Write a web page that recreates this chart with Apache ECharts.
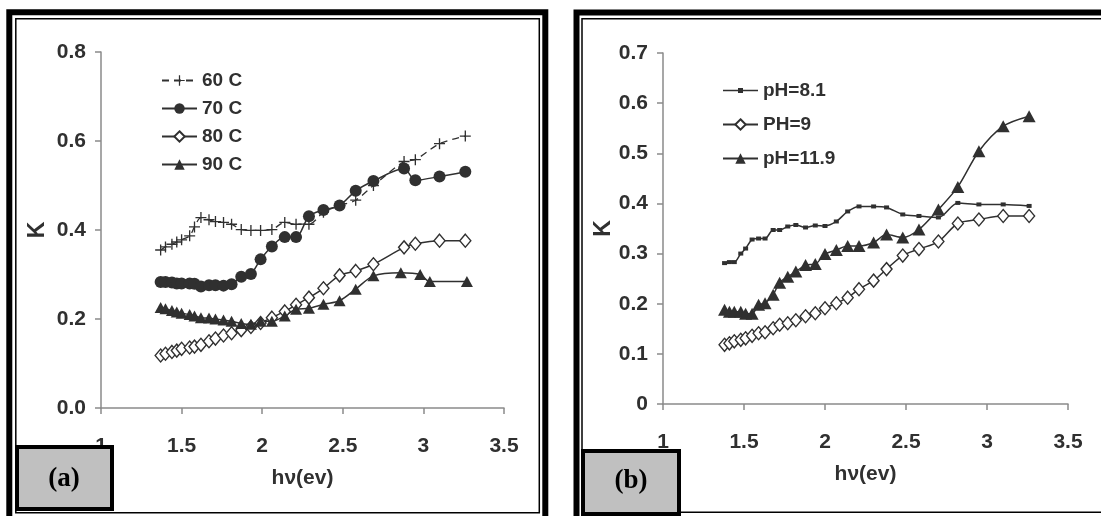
<!DOCTYPE html>
<html>
<head>
<meta charset="utf-8">
<title>K vs hv</title>
<script src="https://cdn.jsdelivr.net/npm/echarts@6/dist/echarts.min.js"></script>
<style>
  html, body { margin: 0; padding: 0; background: #fff; }
  #main { width: 1101px; height: 516px; }
</style>
</head>
<body>
<div id="main"></div>
<script>
// ---- data ----
// panel (a): temperature
let hvA   = [1.37, 1.40, 1.44, 1.47, 1.50, 1.55, 1.58, 1.62, 1.67, 1.71, 1.76, 1.81, 1.87, 1.93, 1.99, 2.06, 2.14, 2.21, 2.29, 2.38, 2.48, 2.58, 2.69, 2.88, 2.95, 3.10, 3.26];
let hvA90 = [1.37, 1.40, 1.44, 1.47, 1.50, 1.55, 1.58, 1.62, 1.67, 1.71, 1.76, 1.81, 1.87, 1.93, 1.99, 2.06, 2.14, 2.21, 2.29, 2.38, 2.48, 2.58, 2.69, 2.86, 2.98, 3.04, 3.27];
let k60 = [0.355, 0.362, 0.368, 0.373, 0.378, 0.387, 0.407, 0.428, 0.423, 0.419, 0.417, 0.413, 0.401, 0.399, 0.399, 0.401, 0.417, 0.413, 0.413, 0.440, 0.455, 0.467, 0.500, 0.554, 0.558, 0.594, 0.611];
let k70 = [0.283, 0.283, 0.282, 0.280, 0.280, 0.280, 0.279, 0.273, 0.276, 0.276, 0.275, 0.278, 0.295, 0.301, 0.334, 0.363, 0.384, 0.384, 0.431, 0.445, 0.455, 0.488, 0.510, 0.538, 0.512, 0.520, 0.531];
let k80 = [0.118, 0.122, 0.126, 0.129, 0.133, 0.136, 0.138, 0.142, 0.150, 0.156, 0.163, 0.168, 0.175, 0.182, 0.191, 0.203, 0.217, 0.232, 0.248, 0.269, 0.298, 0.308, 0.323, 0.361, 0.369, 0.376, 0.376];
let k90 = [0.226, 0.223, 0.219, 0.216, 0.213, 0.210, 0.207, 0.203, 0.202, 0.200, 0.198, 0.195, 0.190, 0.188, 0.195, 0.195, 0.207, 0.222, 0.224, 0.233, 0.241, 0.267, 0.297, 0.304, 0.300, 0.284, 0.284];
let namesA = ['60 C', '70 C', '80 C', '90 C'];

// panel (b): pH
let hvB   = [1.38, 1.41, 1.44, 1.48, 1.51, 1.55, 1.59, 1.63, 1.68, 1.72, 1.77, 1.82, 1.88, 1.94, 2.00, 2.07, 2.14, 2.21, 2.30, 2.38, 2.48, 2.58, 2.70, 2.82, 2.95, 3.10, 3.26];
let kPh81  = [0.281, 0.283, 0.283, 0.300, 0.310, 0.328, 0.330, 0.330, 0.347, 0.347, 0.354, 0.357, 0.352, 0.356, 0.355, 0.364, 0.384, 0.394, 0.394, 0.392, 0.378, 0.375, 0.372, 0.401, 0.398, 0.398, 0.395];
let kPh9   = [0.118, 0.121, 0.125, 0.128, 0.131, 0.136, 0.141, 0.143, 0.151, 0.158, 0.161, 0.167, 0.175, 0.181, 0.191, 0.201, 0.212, 0.229, 0.246, 0.269, 0.296, 0.309, 0.324, 0.360, 0.368, 0.375, 0.375];
let kPh119 = [0.188, 0.184, 0.184, 0.184, 0.180, 0.180, 0.198, 0.201, 0.218, 0.242, 0.254, 0.264, 0.277, 0.279, 0.299, 0.307, 0.315, 0.315, 0.322, 0.338, 0.332, 0.348, 0.388, 0.433, 0.504, 0.554, 0.574];
let namesB = ['pH=8.1', 'PH=9', 'pH=11.9'];

let xTicks = [1, 3.5, 0.5];   // min, max, interval
let yTicksA = [0, 0.8, 0.2];
let yTicksB = [0, 0.7, 0.1];

// ---- styles ----
let FONT = "'Liberation Sans', Arial, sans-serif";
let INK = '#303030';
let AXIS = '#8a8a8a';
let PLUS = 'path://M4.4,0h1.2v4.4h4.4v1.2h-4.4v4.4h-1.2v-4.4h-4.4v-1.2h4.4z';
// legend icon for pH=8.1: thin line with a small square
let LINE_SQ = 'path://M0,6.3h35v1.4h-35z M15,4.5h5v5h-5z';

function pairs(xs, ys) { return xs.map((x, i) => [x, ys[i]]); }

function xAxisOf(gi) {
    return {
        type: 'value', gridIndex: gi,
        min: xTicks[0], max: xTicks[1], interval: xTicks[2],
        name: 'hν(ev)', nameLocation: 'middle', nameGap: 60,
        nameTextStyle: { color: INK, fontFamily: FONT, fontWeight: 'bold', fontSize: 21 },
        axisLine: { lineStyle: { color: AXIS, width: 1.5 } },
        axisTick: { inside: false, length: 6, lineStyle: { color: AXIS, width: 1.5 } },
        axisLabel: { margin: 28, color: INK, fontFamily: FONT, fontWeight: 'bold', fontSize: 21 },
        splitLine: { show: false }
    };
}
function yAxisOf(gi, t, fmt, gap) {
    return {
        type: 'value', gridIndex: gi,
        min: t[0], max: t[1], interval: t[2],
        name: 'K', nameLocation: 'middle', nameGap: gap, nameRotate: 90,
        nameTextStyle: { color: INK, fontFamily: FONT, fontWeight: 'bold', fontSize: 23 },
        axisLine: { show: true, lineStyle: { color: AXIS, width: 1.5 } },
        axisTick: { show: true, inside: false, length: 6, lineStyle: { color: AXIS, width: 1.5 } },
        axisLabel: { margin: 15, color: INK, fontFamily: FONT, fontWeight: 'bold', fontSize: 21, formatter: fmt },
        splitLine: { show: false }
    };
}
function line(name, data, gi, symbol, size, fill, extra) {
    let s = {
        name: name, type: 'line', xAxisIndex: gi, yAxisIndex: gi,
        data: data, smooth: 0.3, symbol: symbol, symbolSize: size, showSymbol: true,
        lineStyle: { color: INK, width: 1.5 },
        itemStyle: { color: fill, borderColor: INK, borderWidth: fill === '#fff' ? 1.4 : 0 },
        emphasis: { disabled: true }
    };
    return Object.assign(s, extra || {});
}

let legendText = { color: INK, fontFamily: FONT, fontWeight: 'bold', fontSize: 19, lineHeight: 18 };

let option = {
    backgroundColor: '#fff',
    animation: false,
    grid: [
        { left: 101, top: 52, width: 403, height: 356 },
        { left: 663, top: 53, width: 405, height: 351 }
    ],
    legend: [
        {
            data: namesA, left: 156, top: 66, orient: 'vertical',
            itemWidth: 35, itemHeight: 13, itemGap: 9,
            textStyle: legendText
        },
        {
            data: [{ name: namesB[0], icon: LINE_SQ }, namesB[1], namesB[2]],
            left: 717, top: 76, orient: 'vertical',
            itemWidth: 35, itemHeight: 13, itemGap: 15,
            textStyle: legendText
        }
    ],
    xAxis: [xAxisOf(0), xAxisOf(1)],
    yAxis: [
        yAxisOf(0, yTicksA, v => v.toFixed(1), 52),
        yAxisOf(1, yTicksB, null, 48)
    ],
    series: [
        line(namesA[0], pairs(hvA, k60), 0, PLUS, 11, INK, { lineStyle: { color: INK, width: 1.3, type: [7, 5] } }),
        line(namesA[1], pairs(hvA, k70), 0, 'circle', 12, INK),
        line(namesA[2], pairs(hvA, k80), 0, 'diamond', [11, 13], '#fff'),
        line(namesA[3], pairs(hvA90, k90), 0, 'triangle', [12, 11], INK),
        line(namesB[0], pairs(hvB, kPh81), 1, 'rect', [5, 4], INK),
        line(namesB[1], pairs(hvB, kPh9), 1, 'diamond', [11, 13], '#fff'),
        line(namesB[2], pairs(hvB, kPh119), 1, 'triangle', [13, 12], INK)
    ],
    // panel frames and the (a)/(b) tags
    graphic: [
        { type: 'rect', shape: { x: 9.3, y: 12.3, width: 536, height: 520 }, style: { fill: null, stroke: '#000', lineWidth: 6 }, z: 50 },
        { type: 'rect', shape: { x: 15.8, y: 18.8, width: 523.5, height: 494 }, style: { fill: null, stroke: '#000', lineWidth: 1.5 }, z: 50 },
        { type: 'rect', shape: { x: 576.5, y: 12.5, width: 540, height: 520 }, style: { fill: null, stroke: '#000', lineWidth: 6 }, z: 50 },
        { type: 'rect', shape: { x: 582, y: 18.8, width: 530, height: 493.5 }, style: { fill: null, stroke: '#000', lineWidth: 1.5 }, z: 50 },
        { type: 'rect', shape: { x: 17, y: 447, width: 95, height: 62 }, style: { fill: '#c0c0c0', stroke: '#000', lineWidth: 4 }, z: 60 },
        { type: 'text', x: 64, y: 479, style: { text: '(a)', fill: '#000', font: "bold 27px 'Liberation Serif', 'Times New Roman', serif", textAlign: 'center', textVerticalAlign: 'middle' }, z: 61 },
        { type: 'rect', shape: { x: 583, y: 451, width: 96, height: 63 }, style: { fill: '#c0c0c0', stroke: '#000', lineWidth: 4 }, z: 60 },
        { type: 'text', x: 631, y: 481, style: { text: '(b)', fill: '#000', font: "bold 27px 'Liberation Serif', 'Times New Roman', serif", textAlign: 'center', textVerticalAlign: 'middle' }, z: 61 }
    ]
};

let myChart = echarts.init(document.getElementById('main'), null, { renderer: 'canvas' });
myChart.setOption(option);
</script>
</body>
</html>
